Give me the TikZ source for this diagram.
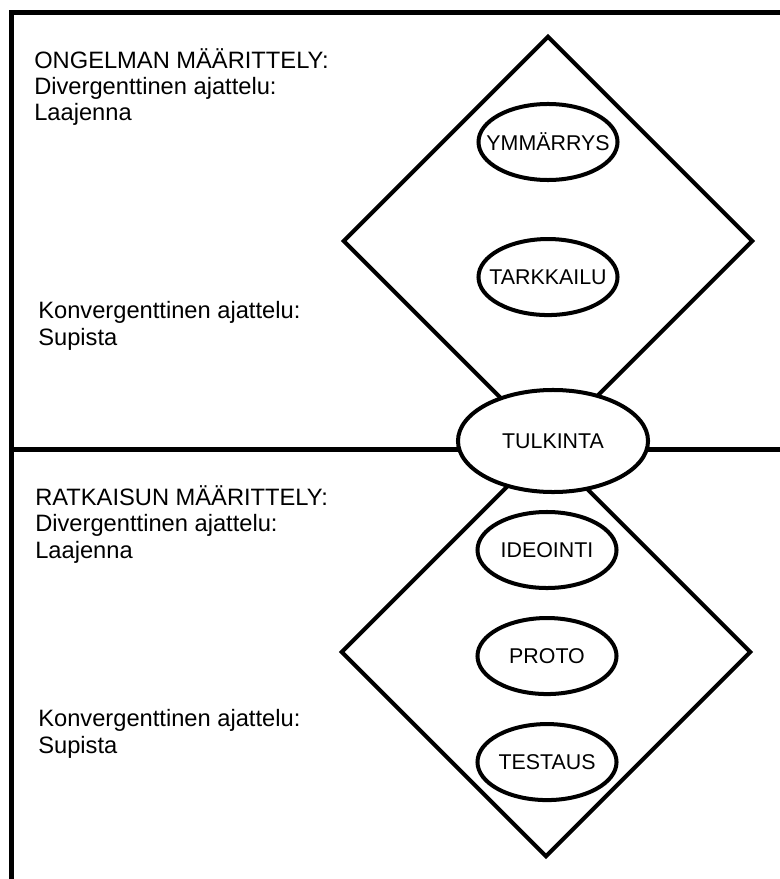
\documentclass[tikz,border=0pt]{standalone}
\usepackage{fontspec}
\setmainfont{Liberation Sans}
\usetikzlibrary{positioning, shapes.geometric}

\begin{document}
\begin{tikzpicture}[x=0.025cm, y=-0.025cm,
    frame_line/.style={line width=3.56pt},
    phase/.style={draw, diamond, line width=2.85pt, minimum width=10.25cm, minimum height=10.25cm, inner sep=0pt},
    step_oval/.style={draw, ellipse, line width=2.85pt, fill=white, minimum width=3.475cm, minimum height=1.9cm, inner sep=0pt},
    every label/.style={font=\fontsize{15.2}{17}\selectfont},
    side_text/.style={anchor=base west, align=left, inner sep=0pt, font=\fontsize{16.85}{18.6}\selectfont}]

    \useasboundingbox (0,0) rectangle (780,879);

    % --- Begin Frame ---
    \coordinate (frame_bottom) at (11.5,890);
    \coordinate (frame_right) at (790,12.5);
    \coordinate (mid_left) at (11.5,449);
    \coordinate (mid_right) at (790,449);
    \draw[frame_line] (frame_bottom) |- (frame_right);
    \draw[frame_line] (mid_left) -- (mid_right);
    % --- End Frame ---

    % --- Begin Problem Phase ---
    \node[phase] (ProblemPhase) at (548,241) {};
    \node[step_oval, label=center:YMMÄRRYS] (Ymmarrys) at (548,142) {};
    \node[step_oval, below=1.375cm of Ymmarrys, label=center:TARKKAILU] (Tarkkailu) {};
    % (base anchor = baseline of the last line)
    \node[side_text] (problem_text) at (34,121) {
      ONGELMAN MÄÄRITTELY:\\
      Divergenttinen ajattelu:\\
      Laajenna
    };
    \node[side_text] (problem_converge) at (38,345) {
      Konvergenttinen ajattelu:\\
      Supista
    };
    % --- End Problem Phase ---

    % --- Begin Solution Phase ---
    \node[phase] (SolutionPhase) at (546,652) {};
    \node[step_oval, label=center:IDEOINTI] (Ideointi) at (547,550) {};
    \node[step_oval, below=0.65cm of Ideointi, label=center:PROTO] (Proto) {};
    \node[step_oval, below=0.65cm of Proto, label=center:TESTAUS] (Testaus) {};
    \node[side_text] (solution_text) at (35,558) {
      RATKAISUN MÄÄRITTELY:\\
      Divergenttinen ajattelu:\\
      Laajenna
    };
    \node[side_text] (solution_converge) at (38,753) {
      Konvergenttinen ajattelu:\\
      Supista
    };
    % --- End Solution Phase ---

    % Interpretation sits between both phases.
    \node[step_oval, minimum width=4.75cm, minimum height=2.55cm, label=center:TULKINTA] (Tulkinta) at (553,441) {};

\end{tikzpicture}
\end{document}
